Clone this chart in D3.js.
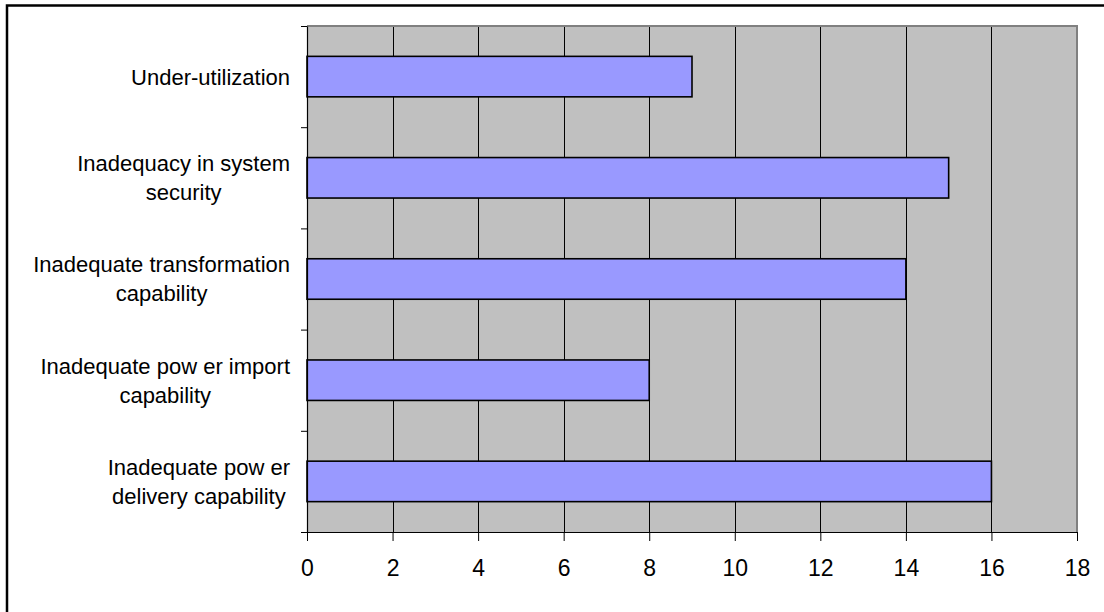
<!DOCTYPE html>
<html>
<head>
<meta charset="utf-8">
<script src="https://cdn.jsdelivr.net/npm/d3@7"></script>
<style>
  html, body { margin: 0; padding: 0; background: #fff; }
  svg { display: block; }
  text { font-family: "Liberation Sans", Arial, sans-serif; fill: #000; }
</style>
</head>
<body>
<svg id="chart" width="1104" height="612"></svg>
<script>
// Problem categories (top to bottom) and their counts
const categories = [
  ["Under-utilization"],
  ["Inadequacy in system", "security"],
  ["Inadequate transformation", "capability"],
  ["Inadequate pow er import", "capability"],
  ["Inadequate pow er", "delivery capability"]
];
const values = [9, 15, 14, 8, 16];
const xTicks = [0, 2, 4, 6, 8, 10, 12, 14, 16, 18];

const W = 1104, H = 612;
const plot = { left: 307, right: 1077, top: 26, bottom: 532 };
const fontSize = 22;
const tickFontSize = 23;

const svg = d3.select("#chart");

// outer chart frame (only top and left edges fall inside the view)
svg.append("rect")
  .attr("x", 7).attr("y", 5.5)
  .attr("width", W + 20).attr("height", H + 20)
  .attr("fill", "#fff").attr("stroke", "#000").attr("stroke-width", 2.5);

const x = d3.scaleLinear().domain([0, 18]).range([plot.left, plot.right]);
const keys = categories.map((c, i) => i);
const y = d3.scaleBand().domain(keys).range([plot.top, plot.bottom])
  .paddingInner(0.6).paddingOuter(0.3);
const yEdge = d3.scaleLinear().domain([0, categories.length]).range([plot.top, plot.bottom]);

// plot background
svg.append("rect")
  .attr("x", plot.left).attr("y", plot.top)
  .attr("width", plot.right - plot.left).attr("height", plot.bottom - plot.top)
  .attr("fill", "#C0C0C0");

// vertical gridlines
svg.append("g").selectAll("line")
  .data(xTicks.filter(t => t > 0 && t < 18))
  .join("line")
  .attr("x1", d => Math.round(x(d)) + 0.5).attr("x2", d => Math.round(x(d)) + 0.5)
  .attr("y1", plot.top).attr("y2", plot.bottom)
  .attr("stroke", "#000").attr("stroke-width", 1);

// plot border on top and right
svg.append("path")
  .attr("d", `M${plot.left},${plot.top}H${plot.right}V${plot.bottom}`)
  .attr("fill", "none").attr("stroke", "#808080").attr("stroke-width", 2);

// bars
svg.append("g").selectAll("rect")
  .data(values)
  .join("rect")
  .attr("x", x(0))
  .attr("y", (d, i) => y(i))
  .attr("width", d => x(d) - x(0))
  .attr("height", y.bandwidth())
  .attr("fill", "#9999FF")
  .attr("stroke", "#000").attr("stroke-width", 1.6);

// bottom axis
const xAxis = svg.append("g")
  .attr("transform", `translate(0,${plot.bottom})`)
  .call(d3.axisBottom(x).tickValues(xTicks).tickSize(9).tickSizeOuter(0).tickPadding(19));
xAxis.select(".domain").attr("stroke", "#000").attr("stroke-width", 1.2);
xAxis.selectAll(".tick line").attr("stroke", "#000");
xAxis.selectAll(".tick text")
  .attr("font-size", tickFontSize)
  .attr("font-family", "Liberation Sans, Arial, sans-serif")
  .attr("fill", "#000");

// left axis: tick marks at category boundaries
const yAxis = svg.append("g")
  .attr("transform", `translate(${plot.left},0)`)
  .call(d3.axisLeft(yEdge).tickValues(d3.range(0, categories.length + 1))
    .tickSize(6).tickSizeOuter(0).tickFormat(""));
yAxis.select(".domain").attr("stroke", "#000").attr("stroke-width", 1.2);
yAxis.selectAll(".tick line").attr("stroke", "#000");

// category labels: block right-aligned, lines centered within the block
const lineH = 29;
const labelRight = 290;
const lg = svg.append("g");
categories.forEach((lines, i) => {
  const cy = y(i) + y.bandwidth() / 2;
  const g = lg.append("g");
  const texts = lines.map((t, j) => g.append("text")
    .attr("font-size", fontSize)
    .attr("text-anchor", "middle")
    .attr("y", cy + (j - (lines.length - 1) / 2) * lineH)
    .attr("dy", "0.36em")
    .text(t));
  const maxW = d3.max(texts, t => t.node().getComputedTextLength());
  texts.forEach(t => t.attr("x", labelRight - maxW / 2));
});
</script>
</body>
</html>
